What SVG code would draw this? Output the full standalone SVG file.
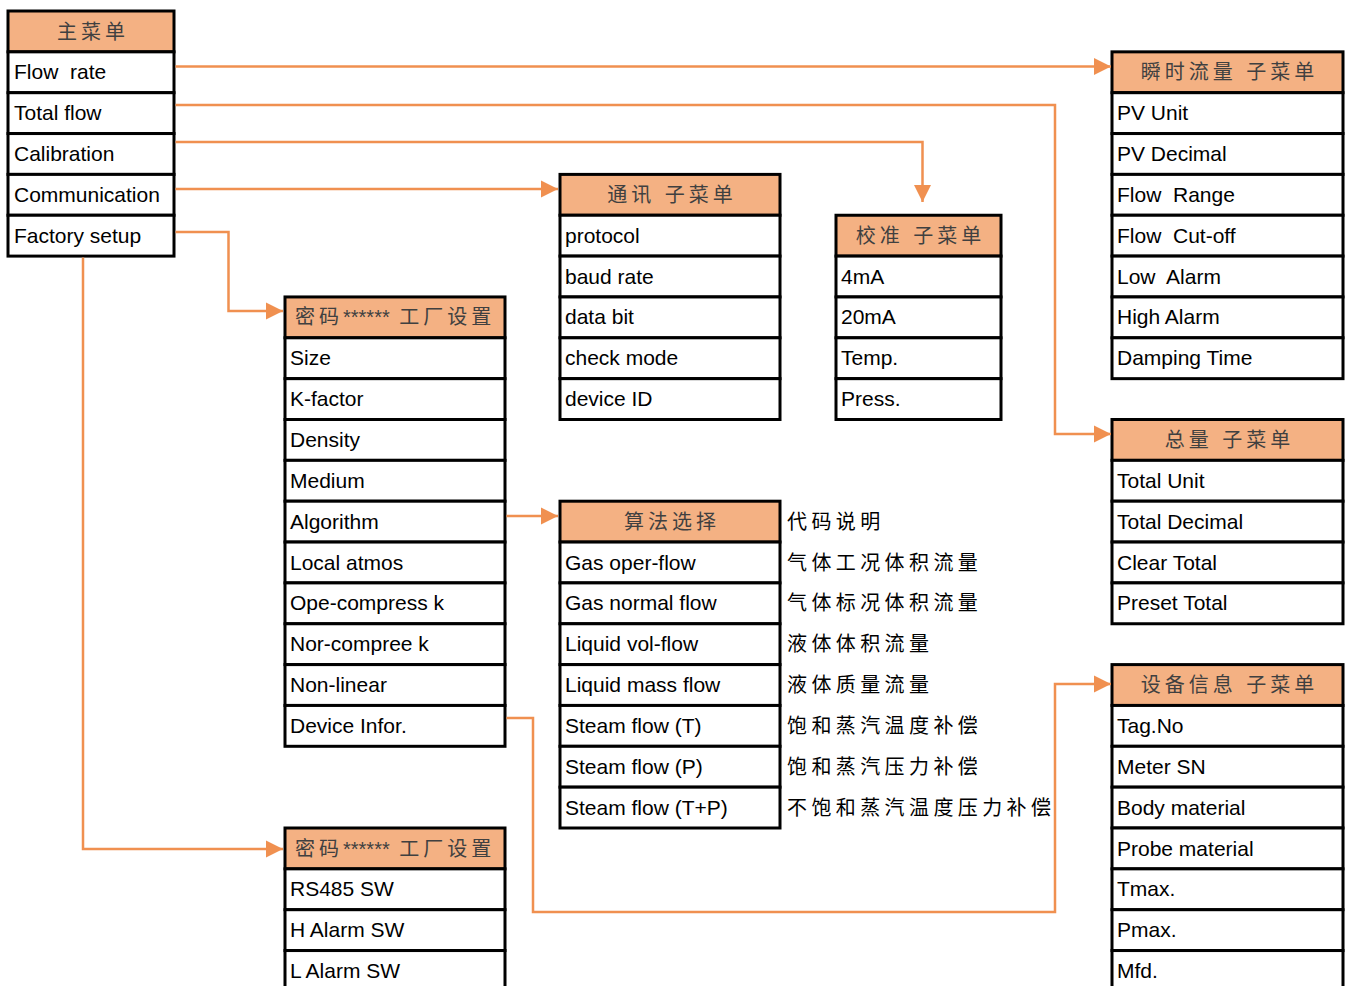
<svg xmlns="http://www.w3.org/2000/svg" width="1345" height="986" viewBox="0 0 1345 986">
<style>
.c{fill:#fff;stroke:#000;stroke-width:3}
.h{fill:#F4B183;stroke:#000;stroke-width:3}
.t{font-family:"Liberation Sans","Noto Sans CJK SC",sans-serif;font-size:21px;fill:#000}
.ht{font-family:"Liberation Sans","Noto Sans CJK SC",sans-serif;font-size:20px;fill:#404040;letter-spacing:4px;text-anchor:middle}
.pw{font-family:"Liberation Sans","Noto Sans CJK SC",sans-serif;font-size:20px;fill:#404040;letter-spacing:4px}
.st{letter-spacing:0}
.d{font-family:"Liberation Sans","Noto Sans CJK SC",sans-serif;font-size:20px;fill:#000;letter-spacing:4.4px}
.k{fill:none;stroke:#F09050;stroke-width:2.5}
</style>
<defs>
<marker id="a" markerUnits="userSpaceOnUse" markerWidth="18" markerHeight="18" refX="17" refY="9" orient="auto">
<path d="M0,0.5 L17,9 L0,17.5 Z" fill="#F09050"/>
</marker>
</defs>
<rect width="1345" height="986" fill="#fff"/>

<g id="main-menu">
<rect class="h" x="8" y="11" width="166" height="40.85"/>
<text class="ht" x="93" y="38.5">主菜单</text>
<rect class="c" x="8" y="51.85" width="166" height="40.85"/>
<text class="t" x="14" y="79.3">Flow&#160; rate</text>
<rect class="c" x="8" y="92.7" width="166" height="40.85"/>
<text class="t" x="14" y="120.2">Total flow</text>
<rect class="c" x="8" y="133.55" width="166" height="40.85"/>
<text class="t" x="14" y="161">Calibration</text>
<rect class="c" x="8" y="174.4" width="166" height="40.85"/>
<text class="t" x="14" y="201.9">Communication</text>
<rect class="c" x="8" y="215.25" width="166" height="40.85"/>
<text class="t" x="14" y="242.7">Factory setup</text>
</g>

<g id="flow-submenu">
<rect class="h" x="1112" y="51.85" width="231" height="40.85"/>
<text class="ht" x="1229.5" y="79.3">瞬时流量 子菜单</text>
<rect class="c" x="1112" y="92.7" width="231" height="40.85"/>
<text class="t" x="1117" y="120.2">PV Unit</text>
<rect class="c" x="1112" y="133.55" width="231" height="40.85"/>
<text class="t" x="1117" y="161">PV Decimal</text>
<rect class="c" x="1112" y="174.4" width="231" height="40.85"/>
<text class="t" x="1117" y="201.9">Flow&#160; Range</text>
<rect class="c" x="1112" y="215.25" width="231" height="40.85"/>
<text class="t" x="1117" y="242.7">Flow&#160; Cut-off</text>
<rect class="c" x="1112" y="256.1" width="231" height="40.85"/>
<text class="t" x="1117" y="283.6">Low&#160; Alarm</text>
<rect class="c" x="1112" y="296.95" width="231" height="40.85"/>
<text class="t" x="1117" y="324.4">High Alarm</text>
<rect class="c" x="1112" y="337.8" width="231" height="40.85"/>
<text class="t" x="1117" y="365.3">Damping Time</text>
</g>

<g id="comm-submenu">
<rect class="h" x="560" y="174.4" width="220" height="40.85"/>
<text class="ht" x="672" y="201.9">通讯 子菜单</text>
<rect class="c" x="560" y="215.25" width="220" height="40.85"/>
<text class="t" x="565" y="242.7">protocol</text>
<rect class="c" x="560" y="256.1" width="220" height="40.85"/>
<text class="t" x="565" y="283.6">baud rate</text>
<rect class="c" x="560" y="296.95" width="220" height="40.85"/>
<text class="t" x="565" y="324.4">data bit</text>
<rect class="c" x="560" y="337.8" width="220" height="40.85"/>
<text class="t" x="565" y="365.3">check mode</text>
<rect class="c" x="560" y="378.65" width="220" height="40.85"/>
<text class="t" x="565" y="406.1">device ID</text>
</g>

<g id="cal-submenu">
<rect class="h" x="836" y="215.25" width="165" height="40.85"/>
<text class="ht" x="920.5" y="242.7">校准 子菜单</text>
<rect class="c" x="836" y="256.1" width="165" height="40.85"/>
<text class="t" x="841" y="283.6">4mA</text>
<rect class="c" x="836" y="296.95" width="165" height="40.85"/>
<text class="t" x="841" y="324.4">20mA</text>
<rect class="c" x="836" y="337.8" width="165" height="40.85"/>
<text class="t" x="841" y="365.3">Temp.</text>
<rect class="c" x="836" y="378.65" width="165" height="40.85"/>
<text class="t" x="841" y="406.1">Press.</text>
</g>

<g id="factory-setup">
<rect class="h" x="285" y="296.95" width="220" height="40.85"/>
<text class="pw" x="295" y="324.4">密码<tspan class="st">******</tspan> 工厂设置</text>
<rect class="c" x="285" y="337.8" width="220" height="40.85"/>
<text class="t" x="290" y="365.3">Size</text>
<rect class="c" x="285" y="378.65" width="220" height="40.85"/>
<text class="t" x="290" y="406.1">K-factor</text>
<rect class="c" x="285" y="419.5" width="220" height="40.85"/>
<text class="t" x="290" y="447">Density</text>
<rect class="c" x="285" y="460.35" width="220" height="40.85"/>
<text class="t" x="290" y="487.8">Medium</text>
<rect class="c" x="285" y="501.2" width="220" height="40.85"/>
<text class="t" x="290" y="528.7">Algorithm</text>
<rect class="c" x="285" y="542.05" width="220" height="40.85"/>
<text class="t" x="290" y="569.5">Local atmos</text>
<rect class="c" x="285" y="582.9" width="220" height="40.85"/>
<text class="t" x="290" y="610.4">Ope-compress k</text>
<rect class="c" x="285" y="623.75" width="220" height="40.85"/>
<text class="t" x="290" y="651.2">Nor-compree k</text>
<rect class="c" x="285" y="664.6" width="220" height="40.85"/>
<text class="t" x="290" y="692.1">Non-linear</text>
<rect class="c" x="285" y="705.45" width="220" height="40.85"/>
<text class="t" x="290" y="732.9">Device Infor.</text>
</g>

<g id="total-submenu">
<rect class="h" x="1112" y="419.5" width="231" height="40.85"/>
<text class="ht" x="1229.5" y="447">总量 子菜单</text>
<rect class="c" x="1112" y="460.35" width="231" height="40.85"/>
<text class="t" x="1117" y="487.8">Total Unit</text>
<rect class="c" x="1112" y="501.2" width="231" height="40.85"/>
<text class="t" x="1117" y="528.7">Total Decimal</text>
<rect class="c" x="1112" y="542.05" width="231" height="40.85"/>
<text class="t" x="1117" y="569.5">Clear Total</text>
<rect class="c" x="1112" y="582.9" width="231" height="40.85"/>
<text class="t" x="1117" y="610.4">Preset Total</text>
</g>

<g id="algorithm">
<rect class="h" x="560" y="501.2" width="220" height="40.85"/>
<text class="ht" x="672" y="528.7">算法选择</text>
<rect class="c" x="560" y="542.05" width="220" height="40.85"/>
<text class="t" x="565" y="569.5">Gas oper-flow</text>
<rect class="c" x="560" y="582.9" width="220" height="40.85"/>
<text class="t" x="565" y="610.4">Gas normal flow</text>
<rect class="c" x="560" y="623.75" width="220" height="40.85"/>
<text class="t" x="565" y="651.2">Liquid vol-flow</text>
<rect class="c" x="560" y="664.6" width="220" height="40.85"/>
<text class="t" x="565" y="692.1">Liquid mass flow</text>
<rect class="c" x="560" y="705.45" width="220" height="40.85"/>
<text class="t" x="565" y="732.9">Steam flow (T)</text>
<rect class="c" x="560" y="746.3" width="220" height="40.85"/>
<text class="t" x="565" y="773.8">Steam flow (P)</text>
<rect class="c" x="560" y="787.15" width="220" height="40.85"/>
<text class="t" x="565" y="814.6">Steam flow (T+P)</text>
<text class="d" x="787" y="528.7">代码说明</text>
<text class="d" x="787" y="569.5">气体工况体积流量</text>
<text class="d" x="787" y="610.4">气体标况体积流量</text>
<text class="d" x="787" y="651.2">液体体积流量</text>
<text class="d" x="787" y="692.1">液体质量流量</text>
<text class="d" x="787" y="732.9">饱和蒸汽温度补偿</text>
<text class="d" x="787" y="773.8">饱和蒸汽压力补偿</text>
<text class="d" x="787" y="814.6">不饱和蒸汽温度压力补偿</text>
</g>

<g id="device-info">
<rect class="h" x="1112" y="664.6" width="231" height="40.85"/>
<text class="ht" x="1229.5" y="692.1">设备信息 子菜单</text>
<rect class="c" x="1112" y="705.45" width="231" height="40.85"/>
<text class="t" x="1117" y="732.9">Tag.No</text>
<rect class="c" x="1112" y="746.3" width="231" height="40.85"/>
<text class="t" x="1117" y="773.8">Meter SN</text>
<rect class="c" x="1112" y="787.15" width="231" height="40.85"/>
<text class="t" x="1117" y="814.6">Body material</text>
<rect class="c" x="1112" y="828" width="231" height="40.85"/>
<text class="t" x="1117" y="855.5">Probe material</text>
<rect class="c" x="1112" y="868.85" width="231" height="40.85"/>
<text class="t" x="1117" y="896.3">Tmax.</text>
<rect class="c" x="1112" y="909.7" width="231" height="40.85"/>
<text class="t" x="1117" y="937.2">Pmax.</text>
<rect class="c" x="1112" y="950.55" width="231" height="40.85"/>
<text class="t" x="1117" y="978">Mfd.</text>
</g>

<g id="switches">
<rect class="h" x="285" y="828" width="220" height="40.85"/>
<text class="pw" x="295" y="855.5">密码<tspan class="st">******</tspan> 工厂设置</text>
<rect class="c" x="285" y="868.85" width="220" height="40.85"/>
<text class="t" x="290" y="896.3">RS485 SW</text>
<rect class="c" x="285" y="909.7" width="220" height="40.85"/>
<text class="t" x="290" y="937.2">H Alarm SW</text>
<rect class="c" x="285" y="950.55" width="220" height="40.85"/>
<text class="t" x="290" y="978">L Alarm SW</text>
</g>

<g id="connectors">
<path class="k" d="M175.5,66.5 H1111" marker-end="url(#a)"/>
<path class="k" d="M175.5,105 H1055 V434 H1111" marker-end="url(#a)"/>
<path class="k" d="M175.5,142 H922.5 V202" marker-end="url(#a)"/>
<path class="k" d="M175.5,189 H558" marker-end="url(#a)"/>
<path class="k" d="M175.5,232 H228.5 V311 H283" marker-end="url(#a)"/>
<path class="k" d="M83,257.6 V849 H283" marker-end="url(#a)"/>
<path class="k" d="M506.5,516 H558" marker-end="url(#a)"/>
<path class="k" d="M506.5,718 H533 V912 H1055 V684 H1111" marker-end="url(#a)"/>
</g>
</svg>
